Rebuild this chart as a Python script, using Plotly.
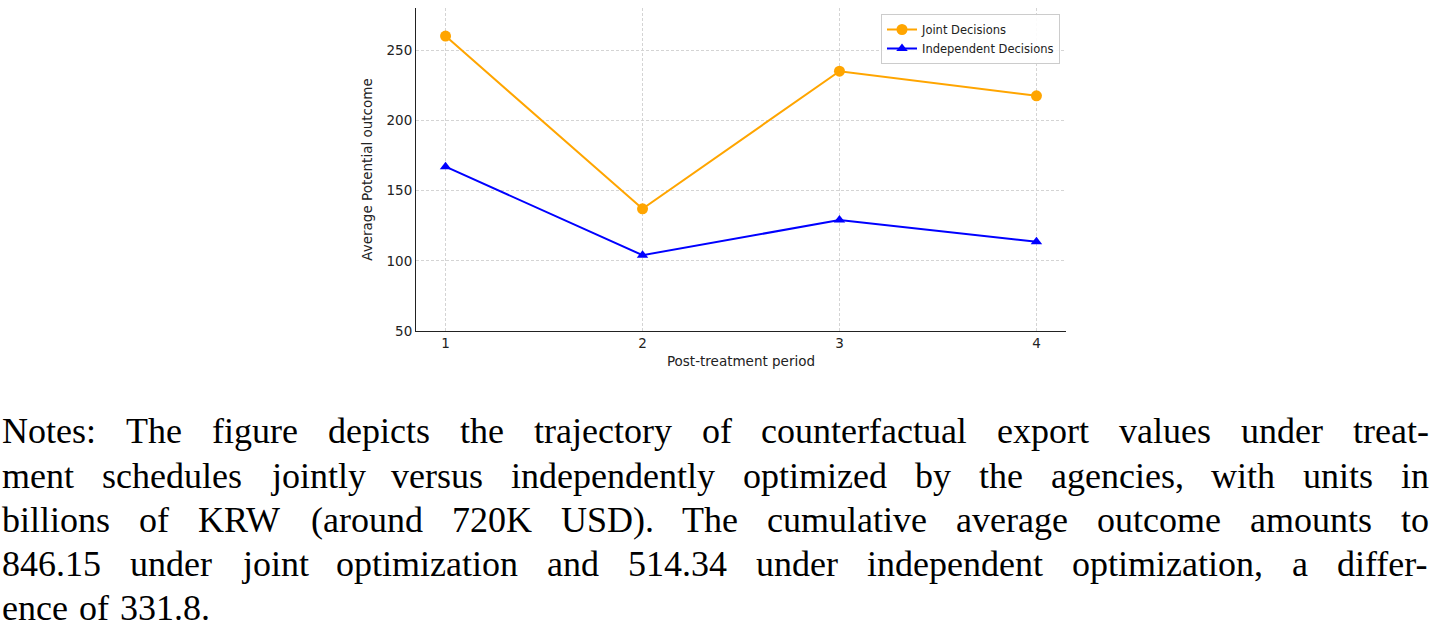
import plotly.graph_objects as go

# ---- data ----
periods = [1, 2, 3, 4]
joint = [260.0, 137.0, 235.0, 217.5]
independent = [167.0, 104.0, 129.0, 113.5]
series_names = ["Joint Decisions", "Independent Decisions"]
y_ticks = [50, 100, 150, 200, 250]
x_title = "Post-treatment period"
y_title = "Average Potential outcome"
note_lines = [
    "Notes: The figure depicts the trajectory of counterfactual export values under treat-",
    "ment schedules jointly versus independently optimized by the agencies, with units in",
    "billions of KRW (around 720K USD). The cumulative average outcome amounts to",
    "846.15 under joint optimization and 514.34 under independent optimization, a differ-",
    "ence of 331.8.",
]

# ---- layout geometry ----
W, H = 1431, 630
ML, MR, MT, MB = 416, 365, 8, 299
PW, PH = W - ML - MR, H - MT - MB

def px_x(p):
    return (p - ML) / PW

def px_y(p):
    return 1 - (p - MT) / PH

fig = go.Figure()
fig.add_trace(go.Scatter(
    x=periods, y=joint, mode="lines+markers", name=series_names[0],
    line=dict(color="#FFA500", width=2),
    marker=dict(symbol="circle", size=11, color="#FFA500"),
))
fig.add_trace(go.Scatter(
    x=periods, y=independent, mode="lines+markers", name=series_names[1],
    line=dict(color="#0000FF", width=2),
    marker=dict(symbol="triangle-up", size=10, color="#0000FF"),
))

axis_font = dict(family="DejaVu Sans", size=13.5, color="#222222")
grid = dict(showgrid=True, gridcolor="#d4d4d4", griddash="3px,2px", gridwidth=0.8,
            zeroline=False, ticks="", showline=True, linecolor="#222222", linewidth=1,
            tickfont=axis_font, mirror=False)
fig.update_xaxes(range=[0.85, 4.15], tickvals=periods,
                 title=dict(text=x_title, font=axis_font, standoff=6), **grid)
fig.update_yaxes(range=[50, 280], tickvals=y_ticks,
                 title=dict(text=y_title, font=axis_font, standoff=10), **grid)

# ---- justified notes text (Times / Liberation Serif metrics) ----
TW = {' ': 250, 'a': 444, 'b': 500, 'c': 444, 'd': 500, 'e': 444, 'f': 333, 'g': 500,
      'h': 500, 'i': 278, 'j': 278, 'k': 500, 'l': 278, 'm': 778, 'n': 500, 'o': 500,
      'p': 500, 'q': 500, 'r': 333, 's': 389, 't': 278, 'u': 500, 'v': 500, 'w': 722,
      'x': 500, 'y': 500, 'z': 444, '.': 250, ',': 250, ':': 278, '-': 333, '(': 333,
      ')': 333, 'N': 722, 'T': 611, 'K': 722, 'R': 667, 'W': 944, 'U': 722, 'S': 556,
      'D': 722}
for d in "0123456789":
    TW[d] = 500

FS = 36
LEFT, RIGHT = 1, 1428
BASE0, LSTEP = 443, 44.2

def wwidth(w):
    return sum(TW.get(c, 500) for c in w) * FS / 1000.0

annotations = []
for i, line in enumerate(note_lines):
    words = line.split(" ")
    cy = BASE0 + i * LSTEP - 0.32 * FS
    widths = [wwidth(w) for w in words]
    last = i == len(note_lines) - 1
    if last or len(words) == 1:
        gap = 0.30 * FS
    else:
        gap = (RIGHT - LEFT - sum(widths)) / (len(words) - 1)
    x = LEFT
    for w, wd in zip(words, widths):
        annotations.append(dict(
            text=w, x=px_x(x), y=px_y(cy), xref="paper", yref="paper",
            xanchor="left", yanchor="middle", showarrow=False, borderpad=0,
            font=dict(family="Liberation Serif", size=FS, color="#000000"),
        ))
        x += wd + gap

fig.update_layout(
    width=W, height=H, margin=dict(l=ML, r=MR, t=MT, b=MB, pad=0),
    plot_bgcolor="white", paper_bgcolor="white",
    font=dict(family="DejaVu Sans", color="#222222"),
    legend=dict(
        x=px_x(1060), y=px_y(14), xanchor="right", yanchor="top",
        bgcolor="rgba(255,255,255,0.9)", bordercolor="#cccccc", borderwidth=1,
        font=dict(family="DejaVu Sans", size=11.5, color="#222222"),
        tracegroupgap=0, itemwidth=30,
    ),
    annotations=annotations,
    showlegend=True,
)

fig.write_html("out.html", config={"displayModeBar": False},
               post_script="document.body.style.margin='0';")
